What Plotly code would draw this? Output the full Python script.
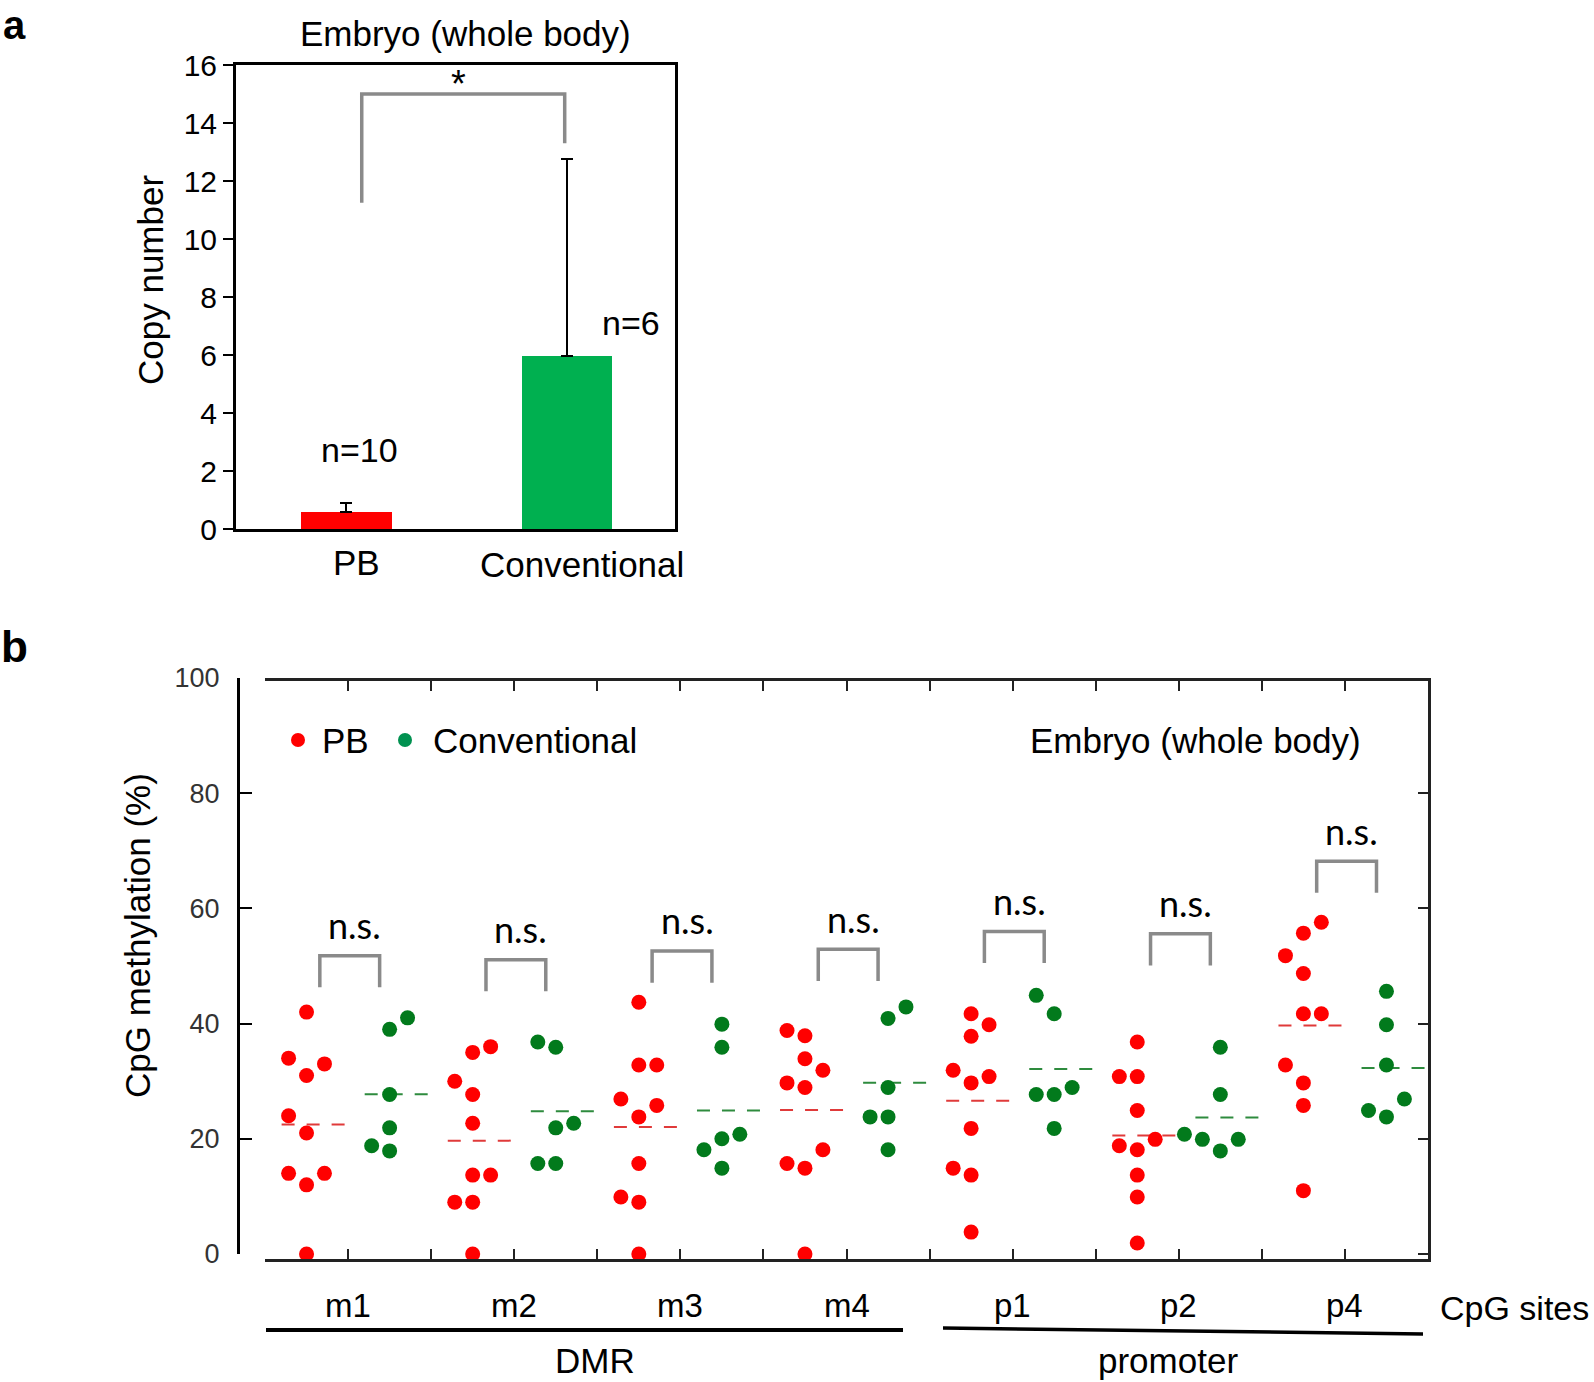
import numpy as np
import plotly.graph_objects as go

W, H = 1594, 1382


def px(x):
    return x / W


def py(y):
    return 1 - y / H


# ---------------- Panel a data ----------------
groups_a = ["PB", "Conventional"]
copy_mean = [0.6, 5.95]
copy_err = [0.3, 6.8]
n_labels = ["n=10", "n=6"]
bar_colors = ["#ff0000", "#00b050"]

# ---------------- Panel b data ----------------
sites = ["m1", "m2", "m3", "m4", "p1", "p2", "p4"]

pb_m1 = [42, 34, 33, 31, 24, 21, 14, 14, 12, 0]
pb_m2 = [36, 35, 30, 27.7, 22.7, 13.7, 13.7, 9, 9, 0]
pb_m3 = [43.7, 32.8, 32.8, 26.9, 25.8, 23.8, 15.7, 9.9, 9.0, 0]
pb_m4 = [38.8, 37.9, 33.9, 31.9, 29.7, 28.9, 18.1, 15.7, 14.9, 0]
pb_p1 = [41.7, 39.8, 37.8, 31.9, 30.8, 29.7, 21.8, 14.9, 13.7, 3.8]
pb_p2 = [36.8, 30.8, 30.8, 24.9, 19.9, 18.8, 18.1, 13.7, 9.9, 1.9]
pb_p4 = [57.6, 55.7, 51.8, 48.7, 41.7, 41.7, 32.8, 29.7, 25.8, 11.0]

conv_m1 = [41, 39, 27.7, 21.9, 18.8, 17.9]
conv_m2 = [36.8, 35.9, 22.7, 21.9, 15.7, 15.7]
conv_m3 = [39.9, 35.9, 20.8, 20.0, 18.1, 14.9]
conv_m4 = [42.9, 40.9, 28.9, 23.8, 23.8, 18.1]
conv_p1 = [44.9, 41.7, 28.9, 27.7, 27.7, 21.8]
conv_p2 = [35.9, 27.7, 20.8, 19.9, 19.9, 17.9]
conv_p4 = [45.6, 39.8, 32.8, 26.9, 24.9, 23.8]

# swarm column index of each dot (-2..1)
pb_m1_col = [0, -1, 1, 0, -1, 0, -1, 1, 0, 0]
pb_m2_col = [1, 0, -1, 0, 0, 0, 1, -1, 0, 0]
pb_m3_col = [0, 0, 1, -1, 1, 0, 0, -1, 0, 0]
pb_m4_col = [-1, 0, 0, 1, -1, 0, 1, -1, 0, 0]
pb_p1_col = [0, 1, 0, -1, 1, 0, 0, -1, 0, 0]
pb_p2_col = [0, -1, 0, 0, 1, -1, 0, 0, 0, 0]
pb_p4_col = [1, 0, -1, 0, 0, 1, -1, 0, 0, 0]

conv_m1_col = [1, 0, 0, 0, -1, 0]
conv_m2_col = [-1, 0, 1, 0, -1, 0]
conv_m3_col = [0, 0, 1, 0, -1, 0]
conv_m4_col = [1, 0, 0, -1, 0, 0]
conv_p1_col = [-1, 0, 1, -1, 0, 0]
conv_p2_col = [0, 0, -2, -1, 1, 0]
conv_p4_col = [0, 0, 0, 1, -1, 0]

bracket_top = [51.8, 51.1, 52.6, 52.9, 56.0, 55.6, 68.2]
sig_labels = ["n.s."] * 7

pb_all = [pb_m1, pb_m2, pb_m3, pb_m4, pb_p1, pb_p2, pb_p4]
conv_all = [conv_m1, conv_m2, conv_m3, conv_m4, conv_p1, conv_p2, conv_p4]
pb_cols = [pb_m1_col, pb_m2_col, pb_m3_col, pb_m4_col, pb_p1_col, pb_p2_col, pb_p4_col]
conv_cols = [conv_m1_col, conv_m2_col, conv_m3_col, conv_m4_col, conv_p1_col, conv_p2_col, conv_p4_col]

RED = "#ff0000"
GREEN = "#027a1c"
SPREAD = 0.216
FONT = "Liberation Sans, Arial, sans-serif"

fig = go.Figure()

# ---------------- Panel a ----------------
fig.add_trace(go.Bar(
    x=[0, 1], y=copy_mean, width=0.41, marker=dict(color=bar_colors, line_width=0),
    error_y=dict(type="data", array=copy_err, arrayminus=[0, 0], symmetric=False,
                 color="black", thickness=2, width=6),
    xaxis="x", yaxis="y", showlegend=False, hoverinfo="skip"))

# significance bracket (panel a)
fig.add_trace(go.Scatter(
    x=[0.07, 0.07, 0.99, 0.99], y=[11.25, 15.0, 15.0, 13.3], mode="lines",
    line=dict(color="#8a8a8a", width=3.5), xaxis="x", yaxis="y",
    showlegend=False, hoverinfo="skip"))

# ---------------- Panel b ----------------
# mean lines
mx_pb, my_pb, mx_cv, my_cv = [], [], [], []
for i in range(len(sites)):
    m_pb = float(np.mean(pb_all[i]))
    m_cv = float(np.mean(conv_all[i]))
    mx_pb += [2 * i + 0.2, 2 * i + 0.98, None]
    my_pb += [m_pb, m_pb, None]
    mx_cv += [2 * i + 1.2, 2 * i + 1.98, None]
    my_cv += [m_cv, m_cv, None]
fig.add_trace(go.Scatter(x=mx_pb, y=my_pb, mode="lines",
                         line=dict(color="#e03a3a", width=2, dash="13px,12px"),
                         xaxis="x2", yaxis="y2", showlegend=False, hoverinfo="skip"))
fig.add_trace(go.Scatter(x=mx_cv, y=my_cv, mode="lines",
                         line=dict(color="#2e8b3e", width=2, dash="13px,12px"),
                         xaxis="x2", yaxis="y2", showlegend=False, hoverinfo="skip"))

# brackets
bx, by = [], []
for i in range(len(sites)):
    t = bracket_top[i]
    bx += [2 * i + 0.66, 2 * i + 0.66, 2 * i + 1.38, 2 * i + 1.38, None]
    by += [t - 5.5, t, t, t - 5.5, None]
fig.add_trace(go.Scatter(x=bx, y=by, mode="lines", line=dict(color="#8a8a8a", width=3.5),
                         xaxis="x2", yaxis="y2", showlegend=False, hoverinfo="skip"))

# dots
xp, yp, xc, yc = [], [], [], []
for i in range(len(sites)):
    for v, c in zip(pb_all[i], pb_cols[i]):
        xp.append(2 * i + 0.5 + c * SPREAD)
        yp.append(v)
    for v, c in zip(conv_all[i], conv_cols[i]):
        xc.append(2 * i + 1.5 + c * SPREAD)
        yc.append(v)
fig.add_trace(go.Scatter(x=xp, y=yp, mode="markers", name="PB",
                         marker=dict(color=RED, size=15, line_width=0),
                         xaxis="x2", yaxis="y2", showlegend=False))
fig.add_trace(go.Scatter(x=xc, y=yc, mode="markers", name="Conventional",
                         marker=dict(color=GREEN, size=15, line_width=0),
                         xaxis="x2", yaxis="y2", showlegend=False))

# dummy trace for free left axis of panel b
fig.add_trace(go.Scatter(x=[0.5], y=[50], mode="markers", marker=dict(opacity=0),
                         xaxis="x3", yaxis="y3", showlegend=False, hoverinfo="skip"))

annotations = []


def ann(text, x, y, size=35, xanchor="center", yanchor="middle", xref="paper", yref="paper",
        family=FONT, angle=0, bold=False):
    if xref == "paper":
        x = px(x)
    if yref == "paper":
        y = py(y)
    annotations.append(dict(text=("<b>%s</b>" % text) if bold else text, x=x, y=y,
                            xref=xref, yref=yref, xanchor=xanchor, yanchor=yanchor,
                            showarrow=False, textangle=angle,
                            font=dict(size=size, family=family, color="black")))


# panel letters
ann("a", 14, 1, size=40, yanchor="top", bold=True)
ann("b", 14, 646, size=44, bold=True)

# panel a texts
ann("Embryo (whole body)", 465, 34, size=35)
ann("Copy number", 150, 280, size=35, angle=-90)
ann("*", 0.51, 15.35, size=38, xref="x", yref="y")
ann(n_labels[0], 0.06, 2.72, size=34, xref="x", yref="y")
ann(n_labels[1], 1.29, 7.1, size=34, xref="x", yref="y")
ann(groups_a[0], 356, 562, size=35)
ann(groups_a[1], 582, 564, size=35)

# panel b texts
ann("CpG methylation (%)", 137, 936, size=35, angle=-90)
ann("PB", 320, 740, size=35, xanchor="left")
ann("Conventional", 431, 740, size=35, xanchor="left")
ann("Embryo (whole body)", 1195, 740, size=35)
for i, s in enumerate(sites):
    annotations.append(dict(text=s, x=2 * i + 1, y=py(1305), xref="x2", yref="paper",
                            showarrow=False, xanchor="center", yanchor="middle",
                            font=dict(size=33, family=FONT, color="black")))
    annotations.append(dict(text=sig_labels[i], x=2 * i + 1.08, y=bracket_top[i] + 5.3,
                            xref="x2", yref="y2", showarrow=False, xanchor="center",
                            yanchor="middle",
                            font=dict(size=36, family="Lato, Open Sans, sans-serif",
                                      color="black")))
ann("CpG sites", 1438, 1308, size=34, xanchor="left")
ann("DMR", 595, 1360, size=35)
ann("promoter", 1168, 1360, size=35)

shapes = [
    dict(type="line", xref="paper", yref="paper", x0=px(266), x1=px(903), y0=py(1330), y1=py(1330),
         line=dict(color="black", width=4)),
    dict(type="line", xref="paper", yref="paper", x0=px(943), x1=px(1423), y0=py(1328), y1=py(1334),
         line=dict(color="black", width=3.5)),
    dict(type="circle", xref="paper", yref="paper", xsizemode="pixel", ysizemode="pixel",
         xanchor=px(298), yanchor=py(740), x0=-7, x1=7, y0=-7, y1=7,
         fillcolor=RED, line_width=0),
    dict(type="circle", xref="paper", yref="paper", xsizemode="pixel", ysizemode="pixel",
         xanchor=px(405), yanchor=py(740), x0=-7, x1=7, y0=-7, y1=7,
         fillcolor="#009150", line_width=0),
]

fig.update_layout(
    template="none",
    width=W, height=H, margin=dict(l=0, r=0, t=0, b=0, pad=0, autoexpand=False),
    paper_bgcolor="white", plot_bgcolor="white", showlegend=False,
    font=dict(family=FONT, color="black"),
    annotations=annotations, shapes=shapes, bargap=0,
    xaxis=dict(domain=[px(236), px(675)], range=[-0.5, 1.49], anchor="y", automargin=False,
               showline=True, mirror=True, linecolor="black", linewidth=3,
               ticks="", showticklabels=False, showgrid=False, zeroline=False, fixedrange=True),
    yaxis=dict(domain=[py(529), py(65)], range=[0, 16], anchor="x", dtick=2, automargin=False,
               showline=True, mirror=True, linecolor="black", linewidth=3,
               ticks="outside", ticklen=10, tickwidth=2, tickcolor="black",
               tickfont=dict(size=30, family=FONT, color="black"),
               showgrid=False, zeroline=False, fixedrange=True),
    xaxis2=dict(domain=[px(265), px(1428)], range=[0, 14], anchor="y2", automargin=False,
                tickvals=list(range(15)), ticks="inside", ticklen=10, tickwidth=2,
                tickcolor="#222", showticklabels=False, showline=True, linewidth=3,
                linecolor="#222", mirror="ticks", showgrid=False, zeroline=False),
    yaxis2=dict(domain=[py(1259), py(681)], range=[-0.87, 99.48], anchor="x2", side="right",
                automargin=False,
                showline=True, linewidth=3, linecolor="#222", ticks="inside",
                tickvals=[0, 20, 40, 60, 80, 100], ticklen=10, tickwidth=2, tickcolor="#222",
                showticklabels=False, showgrid=False, zeroline=False),
    xaxis3=dict(domain=[px(240), px(250)], range=[0, 1], anchor="y3", visible=False,
                automargin=False),
    yaxis3=dict(domain=[py(1254), py(678)], range=[0, 100], anchor="x3", side="left",
                automargin=False,
                showline=True, linewidth=3, linecolor="black", ticks="inside",
                tickvals=[0, 20, 40, 60, 80, 100], ticklen=12, tickwidth=2, tickcolor="black",
                tickfont=dict(size=27, family=FONT, color="#333"), ticklabelstandoff=12,
                showgrid=False, zeroline=False),
)

fig.write_html(
    "out.html",
    config={"displayModeBar": False},
    post_script="document.body.style.margin='0px';document.body.style.overflow='hidden';",
)
